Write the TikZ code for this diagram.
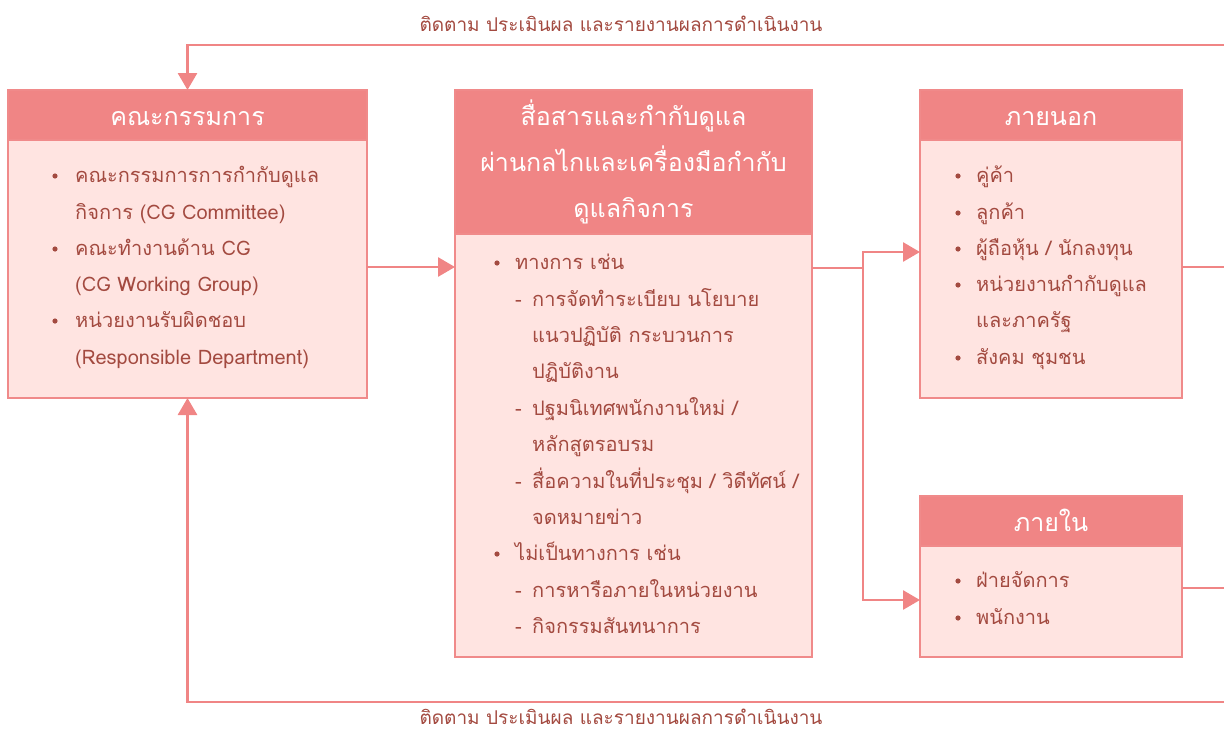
\documentclass[tikz,border=0pt]{standalone}
\usepackage{fontspec}
\setmainfont[Script=Thai]{Loma}
\usetikzlibrary{arrows.meta}
\definecolor{hdr}{HTML}{F08585}
\definecolor{bodyc}{HTML}{FFE4E1}
\definecolor{bord}{HTML}{F08A8A}
\definecolor{txtc}{HTML}{A34A40}
\definecolor{linec}{HTML}{F08585}
\tikzset{
  boxbody/.style={draw=bord,line width=2.5pt,fill=bodyc,inner sep=0pt,outer sep=0pt},
  hdrbox/.style={draw=bord,line width=2.5pt,fill=hdr,inner sep=0pt,outer sep=0pt},
  hdrtxt/.style={text=white,inner sep=0pt,font=\fontsize{25}{46}\selectfont,align=center},
  txt/.style={text=txtc,inner sep=0pt,font=\fontsize{20}{24}\selectfont},
  lbl/.style={text=txtc,inner sep=0pt,font=\fontsize{19}{22}\selectfont},
  conn/.style={draw=linec,line width=2.8pt},
  arr/.style={conn,-{Triangle[length=17pt,width=19pt]}},
}
\newcommand\tl[4]{\node[txt,anchor=base west] (#1) at (#2,#3+7) {#4};}
\newcommand\bl[2]{\fill[txtc] (#1,#2) circle (2.6pt);}
\newcommand\dl[2]{\node[txt,anchor=base west] at (#1,#2+7) {-};}
\begin{document}
\begin{tikzpicture}[x=1pt,y=-1pt]
\useasboundingbox (0,0) rectangle (1224,731);
% boxes
\node[boxbody,minimum width=359pt,minimum height=308pt] (L) at (187.5,244) {};
\node[hdrbox,minimum width=359pt,minimum height=50pt,anchor=north] (LH) at (L.north) {};
\node[hdrtxt,anchor=base] (LT) at (187.5,125) {คณะกรรมการ};
\node[boxbody,minimum width=357pt,minimum height=567pt] (M) at (633.5,373.5) {};
\node[hdrbox,minimum width=357pt,minimum height=144pt,anchor=north] (MH) at (M.north) {};
\node[hdrtxt] (MT) at (MH.center) {สื่อสารและกำกับดูแล\\ผ่านกลไกและเครื่องมือกำกับ\\ดูแลกิจการ};
\node[boxbody,minimum width=262pt,minimum height=308pt] (E) at (1051,244) {};
\node[hdrbox,minimum width=262pt,minimum height=50pt,anchor=north] (EH) at (E.north) {};
\node[hdrtxt,anchor=base] (ET) at (1051,125) {ภายนอก};
\node[boxbody,minimum width=262pt,minimum height=161pt] (I) at (1051,576.5) {};
\node[hdrbox,minimum width=262pt,minimum height=50pt,anchor=north] (IH) at (I.north) {};
\node[hdrtxt,anchor=base] (IT) at (1051,531) {ภายใน};
% left text
\bl{55}{176}\tl{l1}{75}{175}{คณะกรรมการการกำกับดูแล}
\tl{l2}{75}{212}{กิจการ (CG Committee)}
\bl{55}{249}\tl{l3}{75}{248}{คณะทำงานด้าน CG}
\tl{l4}{75}{284}{(CG Working Group)}
\bl{55}{321}\tl{l5}{75}{320}{หน่วยงานรับผิดชอบ}
\tl{l6}{75}{357}{(Responsible Department)}
% middle text
\bl{497}{263}\tl{m1}{515}{262}{ทางการ เช่น}
\dl{515}{299}\tl{m2}{532}{299}{การจัดทำระเบียบ นโยบาย}
\tl{m3}{532}{335}{แนวปฏิบัติ กระบวนการ}
\tl{m4}{532}{371}{ปฏิบัติงาน}
\dl{515}{408}\tl{m5}{532}{408}{ปฐมนิเทศพนักงานใหม่ /}
\tl{m6}{532}{444}{หลักสูตรอบรม}
\dl{515}{481}\tl{m7}{532}{481}{สื่อความในที่ประชุม / วิดีทัศน์ /}
\tl{m8}{532}{517}{จดหมายข่าว}
\bl{497}{554}\tl{m9}{515}{553}{ไม่เป็นทางการ เช่น}
\dl{515}{590}\tl{m10}{532}{590}{การหารือภายในหน่วยงาน}
\dl{515}{626}\tl{m11}{532}{626}{กิจกรรมสันทนาการ}
% external
\bl{958}{176}\tl{e1}{976}{175}{คู่ค้า}
\bl{958}{213}\tl{e2}{976}{212}{ลูกค้า}
\bl{958}{249}\tl{e3}{976}{248}{ผู้ถือหุ้น / นักลงทุน}
\bl{958}{285}\tl{e4}{976}{284}{หน่วยงานกำกับดูแล}
\tl{e5}{976}{320}{และภาครัฐ}
\bl{958}{358}\tl{e6}{976}{357}{สังคม ชุมชน}
% internal
\bl{958}{581}\tl{i1}{976}{580}{ฝ่ายจัดการ}
\bl{958}{618}\tl{i2}{976}{617}{พนักงาน}
% labels
\node[lbl] (toplbl) at (621,24) {ติดตาม ประเมินผล และรายงานผลการดำเนินงาน};
\node[lbl] (botlbl) at (621,717) {ติดตาม ประเมินผล และรายงานผลการดำเนินงาน};
% edge coordinates
\coordinate (RT) at (1230,45);
\coordinate (RB) at (1230,702);
\coordinate (RE) at (1230,267);
\coordinate (RI) at (1230,588);
\coordinate (J) at (863,268);
% connectors
\draw[arr] ([yshift=-23pt]L.east) -- ([yshift=-23pt]L.east -| M.west);
\draw[conn] ([yshift=105.5pt]M.east) -- (J);
\draw[arr] (J) |- ([yshift=-8pt]E.west);
\draw[arr] (J) |- ([yshift=-23.5pt]I.west);
\draw[conn] ([yshift=-23pt]E.east) -- (RE);
\draw[conn] ([yshift=-11.5pt]I.east) -- (RI);
\draw[arr] (RT) -| (L.north);
\draw[arr] (RB) -| (L.south);
\end{tikzpicture}
\end{document}
